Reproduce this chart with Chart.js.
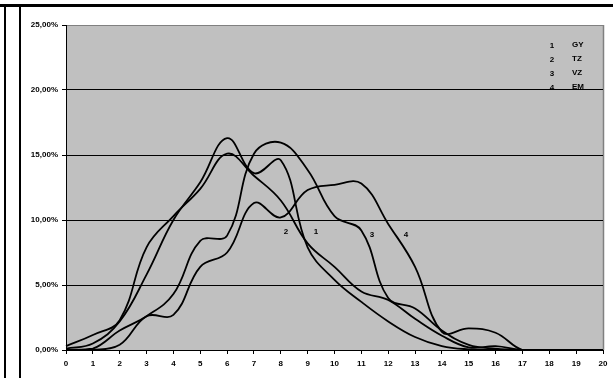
<!DOCTYPE html>
<html>
<head>
<meta charset="utf-8">
<script src="https://cdn.jsdelivr.net/npm/chart.js@4/dist/chart.umd.min.js"></script>
<style>
  body { margin: 0; background: #fff; }
  #wrap { position: relative; width: 613px; height: 378px; }
  .frame { position: absolute; background: #000; }
</style>
</head>
<body>
<div id="wrap">
  <canvas id="distChart" width="613" height="378"></canvas>
  <div class="frame" style="left:0;top:4px;width:613px;height:3px"></div>
  <div class="frame" style="left:4px;top:4px;width:2px;height:374px"></div>
  <div class="frame" style="left:19px;top:7px;width:2px;height:371px"></div>
</div>
<script>
const categories = ['0','1','2','3','4','5','6','7','8','9','10','11','12','13','14','15','16','17','18','19','20'];
const seriesNames = ['GY', 'TZ', 'VZ', 'EM'];
// values in percent
const gy = [0.1, 0.5, 2.2, 5.8, 10.0, 12.9, 16.3, 13.6, 14.6, 7.9, 5.4, 3.7, 2.2, 1.0, 0.3, 0.05, 0, 0, 0, 0, 0];
const tz = [0.3, 1.15, 2.3, 7.9, 10.3, 12.4, 15.1, 13.4, 11.5, 8.2, 6.4, 4.5, 3.85, 2.4, 1.1, 0.2, 0.3, 0, 0, 0, 0];
const vz = [0, 0.1, 1.5, 2.6, 4.3, 8.4, 8.8, 15.1, 15.95, 13.85, 10.3, 9.2, 4.0, 3.2, 1.5, 0.4, 0.1, 0, 0, 0, 0];
const em = [0, 0, 0.4, 2.6, 2.7, 6.4, 7.5, 11.3, 10.2, 12.3, 12.7, 12.8, 9.7, 6.4, 1.4, 1.67, 1.33, 0, 0, 0, 0];
const yTickLabels = ['0,00%', '5,00%', '10,00%', '15,00%', '20,00%', '25,00%'];

const FONT = { family: "'Liberation Sans', Arial, sans-serif", size: 8, weight: 'bold' };

const plotBg = {
    id: 'plotBg',
    beforeDraw(chart) {
        const a = chart.chartArea;
        const c = chart.ctx;
        c.save();
        c.fillStyle = '#c0c0c0';
        c.fillRect(a.left, a.top, a.right - a.left, a.bottom - a.top);
        c.strokeStyle = '#808080';
        c.lineWidth = 1.5;
        c.beginPath();
        c.moveTo(a.right + 0.5, a.top);
        c.lineTo(a.right + 0.5, a.bottom);
        c.stroke();
        c.restore();
    }
};

const labelsPlugin = {
    id: 'labelsPlugin',
    afterDatasetsDraw(chart) {
        const c = chart.ctx;
        c.save();
        c.fillStyle = '#000';
        c.font = "bold 8px 'Liberation Sans', Arial, sans-serif";
        c.textBaseline = 'middle';
        // legend, top right
        seriesNames.forEach((name, i) => {
            const y = 45 + i * 14;
            c.textAlign = 'center';
            c.fillText(String(i + 1), 552, y + 1);
            c.textAlign = 'left';
            c.fillText(name, 572, y);
        });
        // curve labels
        c.textAlign = 'center';
        c.fillText('2', 286, 232);
        c.fillText('1', 316, 232);
        c.fillText('3', 372, 235);
        c.fillText('4', 406, 235);
        c.restore();
    }
};

const lineStyle = {
    borderColor: '#000',
    borderWidth: 1.8,
    pointRadius: 0,
    tension: 0.4,
    fill: false
};

new Chart(document.getElementById('distChart'), {
    type: 'line',
    data: {
        labels: categories,
        datasets: [
            { label: seriesNames[0], data: gy, ...lineStyle },
            { label: seriesNames[1], data: tz, ...lineStyle },
            { label: seriesNames[2], data: vz, ...lineStyle },
            { label: seriesNames[3], data: em, ...lineStyle }
        ]
    },
    options: {
        responsive: false,
        animation: false,
        layout: { padding: { left: 0, right: 10, top: 25, bottom: 0 } },
        plugins: {
            legend: { display: false },
            tooltip: { enabled: false }
        },
        scales: {
            x: {
                type: 'category',
                offset: false,
                afterFit(scale) { scale.height = 28; },
                ticks: { color: '#000', font: FONT, autoSkip: false, maxRotation: 0, padding: 5 },
                grid: { drawOnChartArea: false, drawTicks: true, tickLength: 4, tickColor: '#000', lineWidth: 1 },
                border: { color: '#000', width: 1 }
            },
            y: {
                min: 0,
                max: 25,
                afterFit(scale) { scale.width = 66; },
                ticks: {
                    stepSize: 5,
                    color: '#000',
                    font: FONT,
                    padding: 4,
                    callback: (v) => yTickLabels[Math.round(v / 5)]
                },
                grid: {
                    color: (ctx) => (ctx.tick && ctx.tick.value === 25 ? '#808080' : '#000'),
                    tickColor: '#000',
                    tickLength: 4,
                    lineWidth: 1
                },
                border: { color: '#000', width: 1 }
            }
        }
    },
    plugins: [plotBg, labelsPlugin]
});
</script>
</body>
</html>
